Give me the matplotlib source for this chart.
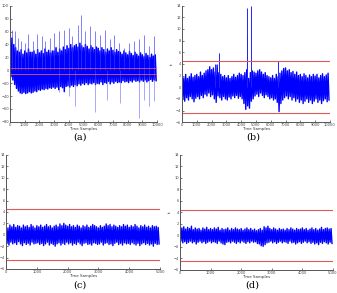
import numpy as np
import matplotlib
matplotlib.use("Agg")
import matplotlib.pyplot as plt

# panel (a): dense band, sampled every 125 steps
a_t = np.arange(0, 10000, 125)
a_hi = [45, 50, 40, 35,
        30, 28, 32, 25, 30, 27, 33, 28,
        28, 30, 25, 32, 27, 30, 26, 33, 28, 31, 27, 30,
        30, 35, 28, 33, 30, 36, 32, 38, 34, 40, 35, 38,
        40, 36, 42, 38, 35, 40, 37, 33, 38, 35, 32, 36,
        34, 30, 35, 32, 28, 33, 30, 35, 31, 28, 32, 29,
        28, 25, 30, 27, 24, 29, 26, 23, 28, 25, 22, 27,
        24, 21, 26, 23, 20, 25, 22, 24]
a_lo = [-10, -15, -22, -28,
        -32, -35, -36, -34, -36, -35, -33, -35,
        -34, -32, -33, -30, -31, -29, -30, -28, -29, -27, -28, -26,
        -28, -26, -30, -25, -27, -33, -25, -24, -26, -23, -25, -22,
        -24, -21, -23, -20, -22, -19, -22, -20, -21, -19, -22, -20,
        -21, -18, -22, -19, -20, -17, -21, -18, -20, -17, -19, -18,
        -19, -16, -18, -17, -19, -16, -18, -15, -17, -16, -18, -15,
        -17, -15, -18, -16, -14, -17, -15, -16]
a_up_t = [114, 341, 568, 727, 1023, 1250, 1590, 1818, 2160, 2386, 2727, 2954,
          3295, 3636, 3977, 4200, 4590, 4818, 5113, 5454, 5795, 6136, 6477,
          6818, 7045, 7386, 7727, 8068, 8409, 8750, 9090, 9431, 9772]
a_up_v = [63, 61, 50, 45, 42, 56, 45, 56, 53, 45, 50, 58,
          61, 63, 66, 53, 71, 86, 61, 68, 61, 55, 63,
          48, 55, 42, 35, 42, 45, 48, 55, 37, 53]
a_dn_t = [3360, 3977, 4430, 5795, 6590, 7500, 8750, 9090, 9477, 9772]
a_dn_v = [-33, -40, -55, -64, -46, -50, -74, -46, -56, -48]

# panel (b)
b_t = np.arange(0, 10000, 125)
b_hi = [2.0, 1.6, 2.2, 1.5, 1.8, 2.3, 1.7, 2.0,
        2.2, 1.8, 2.6, 2.0, 2.4, 2.8, 3.0, 3.5,
        3.0, 3.3, 2.6, 3.8, 2.5, 2.2, 1.8, 2.0,
        1.6, 2.0, 1.5, 1.8, 2.2, 1.7, 2.0, 2.4,
        2.2, 2.0, 2.5, 3.0, 1.5, 2.5, 2.8, 2.6,
        2.4, 2.8, 3.0, 2.6, 2.2, 2.5, 2.0, 1.8,
        1.6, 2.0, 1.5, 2.2, 1.8, 2.4, 2.8, 3.2,
        3.3, 2.8, 3.0, 2.5, 2.7, 2.2, 2.6, 2.0,
        2.2, 1.8, 2.3, 2.0, 1.6, 2.1, 1.8, 2.2,
        1.9, 2.2, 1.6, 2.0, 2.3, 1.8, 2.1, 2.4]
b_lo = [-2.0, -2.4, -1.8, -2.2, -1.6, -2.0, -2.5, -1.9,
        -1.6, -2.0, -1.4, -1.8, -1.2, -1.5, -1.0, -1.6,
        -1.3, -2.0, -2.6, -1.5, -1.8, -2.2, -1.6, -2.0,
        -2.2, -1.7, -2.0, -1.5, -1.8, -1.4, -1.9, -1.6,
        -2.0, -2.8, -3.8, -3.2, -3.6, -2.4, -2.0, -1.5,
        -1.2, -1.6, -1.0, -1.4, -1.8, -1.3, -1.6, -2.0,
        -1.8, -2.2, -2.0, -2.6, -4.2, -2.8, -2.2, -1.8,
        -1.5, -2.0, -1.6, -2.2, -1.8, -2.4, -2.0, -2.6,
        -2.2, -2.8, -2.4, -2.0, -2.6, -2.2, -2.8, -2.4,
        -2.0, -2.6, -2.2, -2.8, -2.3, -2.0, -2.5, -2.2]
b_up_t = [2200, 2500, 4380, 4400, 4650, 6470]
b_up_v = [4.0, 5.8, 8.7, 13.5, 14.0, 4.5]

# panel (c)
c_t = np.arange(0, 5000, 62.5)
c_hi = [1.5, 1.2, 1.7, 1.4, 1.8, 1.3, 1.6, 1.5, 1.2, 1.7, 1.4, 1.6, 1.3, 1.8, 1.5, 1.2,
        1.6, 1.4, 1.7, 1.3, 1.5, 1.8, 1.4, 1.6, 1.2, 1.5, 1.7, 1.4, 1.9, 1.6, 2.0, 1.7,
        1.5, 1.8, 1.4, 1.6, 1.3, 1.7, 1.5, 1.2, 1.6, 1.4, 1.7, 1.3, 1.5, 1.8, 1.6, 1.4,
        1.2, 1.6, 1.3, 1.5, 1.9, 1.6, 1.8, 1.4, 1.7, 1.5, 1.3, 1.6, 1.4, 1.8, 1.5, 1.7,
        1.3, 1.6, 1.4, 1.8, 1.5, 1.2, 1.6, 1.4, 1.7, 1.3, 1.5, 1.2, 1.6, 1.4, 1.5, 1.3]
c_lo = [-1.5, -1.8, -1.3, -1.6, -1.4, -1.7, -1.2, -1.6, -1.9, -1.4, -1.7, -1.5, -1.8, -1.3, -1.6, -1.5,
        -1.4, -1.7, -1.5, -1.9, -1.6, -1.3, -1.8, -1.5, -1.7, -2.0, -1.6, -1.4, -1.8, -1.5, -1.7, -1.3,
        -1.6, -1.4, -1.8, -1.5, -1.7, -1.3, -1.6, -1.9, -1.5, -1.4, -1.7, -1.6, -1.8, -1.4, -1.5, -1.7,
        -1.6, -1.3, -1.8, -1.5, -1.4, -1.7, -1.6, -1.9, -1.5, -1.3, -1.7, -1.5, -1.8, -1.4, -1.6, -1.5,
        -1.7, -1.4, -1.6, -1.8, -1.5, -1.9, -1.6, -1.4, -1.7, -1.5, -1.8, -1.6, -2.0, -1.5, -1.7, -1.6]

# panel (d)
d_t = np.arange(0, 5000, 62.5)
d_hi = [1.0, 1.3, 1.5, 1.1, 1.4, 1.2, 1.6, 1.0, 1.3, 1.1, 1.2, 0.9, 1.3, 1.1, 1.4, 1.0,
        1.2, 1.0, 1.3, 1.1, 1.4, 0.9, 1.2, 1.0, 1.1, 1.3, 0.9, 1.2, 1.0, 1.3, 1.1, 1.0,
        1.2, 0.9, 1.1, 1.3, 1.0, 1.2, 0.9, 1.1, 0.8, 1.0, 1.2, 0.9, 1.5, 1.3, 1.6, 1.2,
        1.0, 1.3, 1.1, 0.9, 1.2, 1.0, 1.1, 0.9, 1.2, 1.0, 1.3, 1.1, 0.9, 1.2, 1.0, 1.1,
        1.3, 1.0, 1.2, 0.9, 1.1, 1.3, 1.0, 1.2, 0.9, 1.1, 1.4, 1.0, 1.2, 1.3, 1.1, 1.2]
d_lo = [-1.0, -1.3, -1.1, -1.4, -1.2, -1.0, -1.3, -1.1, -1.5, -1.2, -1.0, -1.3, -1.1, -1.4, -1.2, -1.0,
        -1.3, -1.1, -1.2, -1.4, -1.0, -1.3, -1.5, -1.6, -1.2, -1.1, -1.3, -1.0, -1.2, -1.4, -1.1, -1.3,
        -1.0, -1.2, -1.4, -1.1, -1.3, -1.0, -1.2, -1.1, -1.4, -1.5, -1.8, -1.9, -1.6, -1.3, -1.2, -1.0,
        -1.3, -1.1, -1.4, -1.2, -1.0, -1.3, -1.1, -1.2, -1.4, -1.0, -1.3, -1.2, -1.5, -1.3, -1.1, -1.4,
        -1.2, -1.0, -1.3, -1.1, -1.4, -1.2, -1.5, -1.3, -1.6, -1.2, -1.4, -1.1, -1.3, -1.5, -1.2, -1.4]

a_thr = [3, -5]
bcd_thr = [4.5, -4.5]

BLUE = '#0000ff'
RED = '#e05a5a'
TICK_FS = 2.6


def band(ax, t, hi, lo, lw=1.0):
    step = t[1] - t[0]
    xs = np.empty(2 * len(t))
    ys = np.empty(2 * len(t))
    xs[0::2] = t
    xs[1::2] = t + step / 2
    ys[0::2] = hi
    ys[1::2] = lo
    ax.plot(xs, ys, color=BLUE, lw=lw)


def style(ax, xmax, xstep, ylim, ystep):
    ax.set_xlim(0, xmax)
    ax.set_ylim(*ylim)
    ax.set_xticks(np.arange(0, xmax + 1, xstep))
    ax.set_yticks(np.arange(ylim[0], ylim[1] + 0.01, ystep))
    for s in ['top', 'right']:
        ax.spines[s].set_visible(False)
    for s in ['left', 'bottom']:
        ax.spines[s].set_color('#555555')
        ax.spines[s].set_linewidth(0.7)
    ax.tick_params(direction='in', length=1.5, width=0.5, labelsize=TICK_FS,
                   colors='#444444', pad=0.8)
    ax.set_xlabel('Time Samples', fontsize=TICK_FS + 0.3, labelpad=0, color='#333333')


fig = plt.figure(figsize=(3.37, 2.93), dpi=100)

axA = fig.add_axes([0.030, 0.584, 0.436, 0.396])
band(axA, a_t, a_hi, a_lo, lw=1.1)
axA.vlines(a_up_t, 0, a_up_v, color='#3a3aff', lw=0.6, alpha=0.75)
axA.vlines(a_dn_t, a_dn_v, 0, color='#5555ff', lw=0.6, alpha=0.6)
for v in a_thr:
    axA.axhline(v, color=RED, lw=0.6)
style(axA, 10000, 1000, (-80, 100), 20)

axB = fig.add_axes([0.540, 0.583, 0.439, 0.398])
band(axB, b_t, b_hi, b_lo)
axB.vlines(b_up_t, 0, b_up_v, color='#2222ff', lw=0.7)
for v in bcd_thr:
    axB.axhline(v, color=RED, lw=0.8)
style(axB, 10000, 1000, (-6, 14), 2)
axB.set_ylabel('t', fontsize=3, labelpad=1)

axC = fig.add_axes([0.018, 0.082, 0.457, 0.389])
band(axC, c_t, c_hi, c_lo)
for v in bcd_thr:
    axC.axhline(v, color=RED, lw=0.8)
style(axC, 5000, 1000, (-6, 14), 2)

axD = fig.add_axes([0.534, 0.079, 0.454, 0.392])
band(axD, d_t, d_hi, d_lo)
for v in bcd_thr:
    axD.axhline(v, color=RED, lw=0.8)
style(axD, 5000, 1000, (-6, 14), 2)
axD.set_ylabel('t', fontsize=3, labelpad=1)

cap = dict(fontsize=7, family='DejaVu Serif', ha='center', va='center')
fig.text(80 / 337, 1 - 137 / 293, '(a)', **cap)
fig.text(253 / 337, 1 - 137 / 293, '(b)', **cap)
fig.text(80 / 337, 1 - 285 / 293, '(c)', **cap)
fig.text(252 / 337, 1 - 285 / 293, '(d)', **cap)

fig.savefig('out.png', dpi=100)
